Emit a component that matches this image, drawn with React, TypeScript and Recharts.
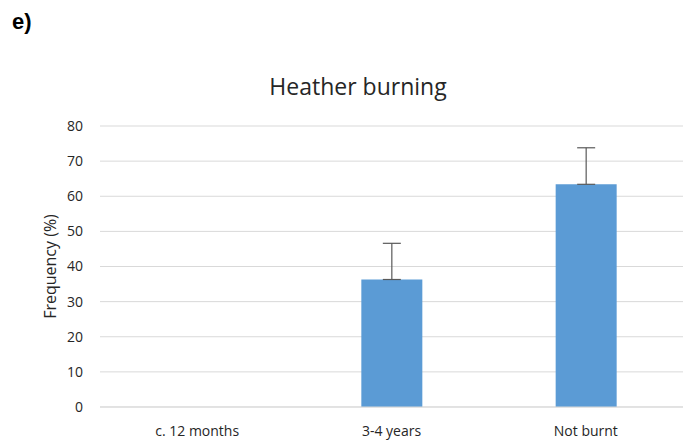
import { BarChart, Bar, XAxis, YAxis, CartesianGrid, ErrorBar } from 'recharts';

const categories = ['c. 12 months', '3-4 years', 'Not burnt'];
const frequency = [0, 36.3, 63.4];
const errorUp = [0, 10.3, 10.4];
const yTicks = [0, 10, 20, 30, 40, 50, 60, 70, 80];

const data = categories.map((name, i) => ({
  name,
  value: frequency[i],
  err: [0, errorUp[i]],
}));

const FONT = '"Open Sans", Lato, sans-serif';

export default function App() {
  return (
    <div
      style={{
        position: 'absolute',
        left: 0,
        top: 0,
        width: 692,
        height: 445,
        background: '#fff',
        fontFamily: FONT,
      }}
    >
      <div
        style={{
          position: 'absolute',
          left: 12,
          top: 11,
          lineHeight: 1,
          fontFamily: 'Arial, "Liberation Sans", sans-serif',
          fontWeight: 'bold',
          fontSize: 22,
        }}
      >
        e)
      </div>
      <div
        style={{
          position: 'absolute',
          left: 208,
          width: 300,
          top: 70,
          textAlign: 'center',
          fontSize: 23,
          color: '#262626',
        }}
      >
        Heather burning
      </div>
      <BarChart
        width={692}
        height={445}
        data={data}
        margin={{ top: 126, right: 9, left: 0, bottom: 8 }}
      >
        <CartesianGrid vertical={false} stroke="#d9d9d9" />
        <XAxis
          dataKey="name"
          height={30}
          tickLine={false}
          axisLine={{ stroke: '#d9d9d9' }}
          tickMargin={13}
          tick={{ fontSize: 14, fill: '#262626', fontFamily: FONT }}
        />
        <YAxis
          width={100}
          domain={[0, 80]}
          ticks={yTicks}
          axisLine={false}
          tickLine={false}
          tickMargin={11}
          tick={{ fontSize: 14, fill: '#262626', fontFamily: FONT }}
          label={{
            value: 'Frequency (%)',
            angle: -90,
            position: 'insideLeft',
            offset: 50,
            style: { textAnchor: 'middle', fontSize: 16, fill: '#262626', fontFamily: FONT },
          }}
        />
        <Bar dataKey="value" fill="#5b9bd5" barSize={61} isAnimationActive={false}>
          <ErrorBar
            dataKey="err"
            direction="y"
            width={9}
            stroke="#595959"
            strokeWidth={1.2}
            isAnimationActive={false}
          />
        </Bar>
      </BarChart>
    </div>
  );
}
